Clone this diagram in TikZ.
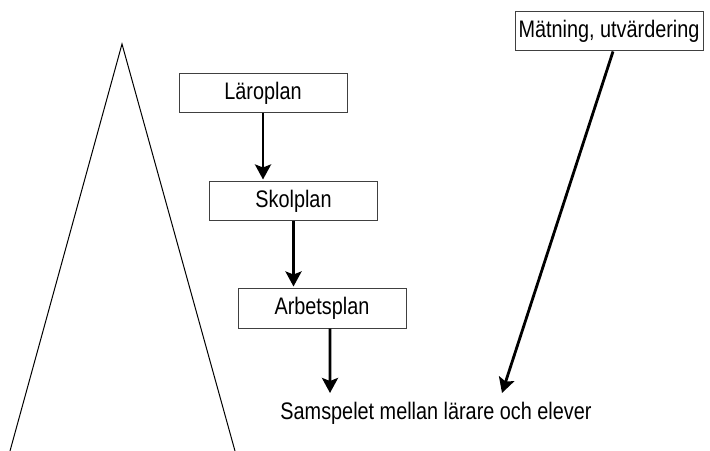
\documentclass[tikz,border=0pt]{standalone}
\usepackage{fontspec}
\setmainfont{Liberation Sans}[FakeStretch=0.83]
\usetikzlibrary{positioning,arrows.meta}

\begin{document}
\begin{tikzpicture}[x=1bp, y=-1bp, box/.style = {draw=black!75, line width=1bp, minimum width=168bp, minimum height=39bp, inner sep=0pt, font=\fontsize{24}{27}\selectfont}, pil/.style = {line width=2.8bp, -{Stealth[length=15bp,width=16bp,inset=3bp]}}]
\useasboundingbox (0,0) rectangle (710,451);

\draw[line width=1bp] (10,451) -- (122,44) -- (235,451);

\node[box] (lp) at (263,93) {Läroplan};
\node[box] (sp) at (293.5,201.5) {Skolplan};
\node[box] (ap) at (322,308.5) {Arbetsplan};
\node[box, minimum width=188bp] (mu) at (609,31.5) {Mätning, utvärdering};
\node[font=\fontsize{24}{27}\selectfont, anchor=base, inner sep=0pt] (sam) at (436,419) {Samspelet mellan lärare och elever};
\coordinate (s1) at (330,393);
\coordinate (s2) at (502,393);

\draw[pil, shorten >=2bp] (lp.south) -- (lp.south |- sp.north);
\draw[pil, shorten >=2bp] (sp.south) -- (sp.south |- ap.north);
\draw[pil] ([xshift=8bp]ap.south) -- (s1);
\draw[pil] ([xshift=4bp]mu.south) -- (s2);

\end{tikzpicture}
\end{document}
